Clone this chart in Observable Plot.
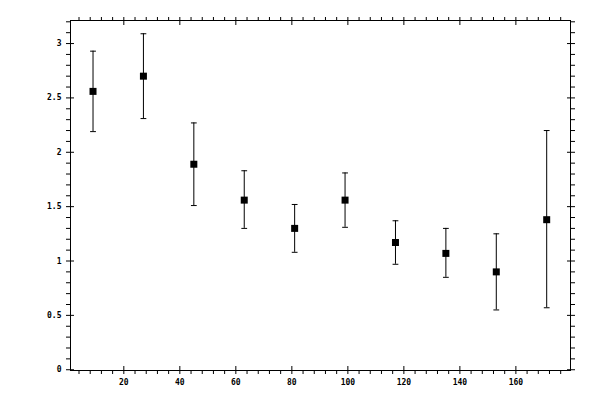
<!DOCTYPE html>
<html><head><meta charset="utf-8">
<script src="https://cdn.jsdelivr.net/npm/d3@7"></script>
<script src="https://cdn.jsdelivr.net/npm/@observablehq/plot@0.6"></script>
<style>body{margin:0;background:#fff}</style>
</head><body><div id="chart"></div>
<script>
const xs = [9, 27, 45, 63, 81, 99, 117, 135, 153, 171];
const ys = [2.56, 2.70, 1.89, 1.56, 1.30, 1.56, 1.17, 1.07, 0.90, 1.38];
const lows = [2.19, 2.31, 1.51, 1.30, 1.08, 1.31, 0.97, 0.85, 0.55, 0.57];
const highs = [2.93, 3.09, 2.27, 1.83, 1.52, 1.81, 1.37, 1.30, 1.25, 2.20];
const xMajor = [20, 40, 60, 80, 100, 120, 140, 160];
const xMajorLabels = ["20", "40", "60", "80", "100", "120", "140", "160"];
const xMinor = d3.range(4, 180, 4).filter(v => v % 20 !== 0);
const yMajor = [0, 0.5, 1, 1.5, 2, 2.5, 3];
const yMajorLabels = ["0", "0.5", "1", "1.5", "2", "2.5", "3"];
const yMinor = d3.range(1, 33).filter(i => i % 5 !== 0).map(i => i / 10);

const data = xs.map((x, i) => ({x, y: ys[i], lo: lows[i], hi: highs[i]}));
const hline = {draw(ctx, l) { ctx.moveTo(0, 0); ctx.lineTo(0, -l); }};
const blank = () => "";
const xLab = d => xMajorLabels[xMajor.indexOf(d)];
const yLab = d => yMajorLabels[yMajor.indexOf(d)];

const chart = Plot.plot({
  width: 600, height: 400,
  marginLeft: 70, marginRight: 30, marginTop: 20, marginBottom: 30,
  x: {domain: [0.96, 179.5], axis: null},
  y: {domain: [-0.007, 3.212], axis: null},
  style: {fontFamily: "DejaVu Sans Mono", fontSize: "8px", fontWeight: "bold", background: "white", color: "black"},
  marks: [
    Plot.frame({stroke: "black"}),
    // bottom
    Plot.axisX({anchor: "bottom", ticks: xMinor, tickSize: 4, tickFormat: blank, label: null}),
    Plot.axisX({anchor: "bottom", ticks: xMajor, tickSize: 8, dy: -4, tickFormat: blank, label: null}),
    Plot.axisX({anchor: "bottom", ticks: xMajor, tickSize: 0, tickPadding: 8.5, tickFormat: xLab, label: null}),
    // top
    Plot.axisX({anchor: "top", ticks: xMinor, tickSize: 4, tickFormat: blank, label: null}),
    Plot.axisX({anchor: "top", ticks: xMajor, tickSize: 8, dy: 4, tickFormat: blank, label: null}),
    // left
    Plot.axisY({anchor: "left", ticks: yMinor, tickSize: 4, tickFormat: blank, label: null}),
    Plot.axisY({anchor: "left", ticks: yMajor, tickSize: 8, dx: 4, tickFormat: blank, label: null}),
    Plot.axisY({anchor: "left", ticks: yMajor, tickSize: 0, tickPadding: 9, tickFormat: yLab, label: null}),
    // right
    Plot.axisY({anchor: "right", ticks: yMinor, tickSize: 4, tickFormat: blank, label: null}),
    Plot.axisY({anchor: "right", ticks: yMajor, tickSize: 8, dx: -4, tickFormat: blank, label: null}),
    // error bars
    Plot.ruleX(data, {x: "x", y1: "lo", y2: "hi", stroke: "black", strokeWidth: 1}),
    Plot.vector(data, {x: "x", y: "lo", length: 5, rotate: 90, anchor: "middle", shape: hline, stroke: "black", strokeWidth: 1}),
    Plot.vector(data, {x: "x", y: "hi", length: 5, rotate: 90, anchor: "middle", shape: hline, stroke: "black", strokeWidth: 1}),
    Plot.dot(data, {x: "x", y: "y", symbol: "square", r: 3.95, fill: "black"})
  ]
});
document.getElementById("chart").appendChild(chart);
</script>
</body></html>
